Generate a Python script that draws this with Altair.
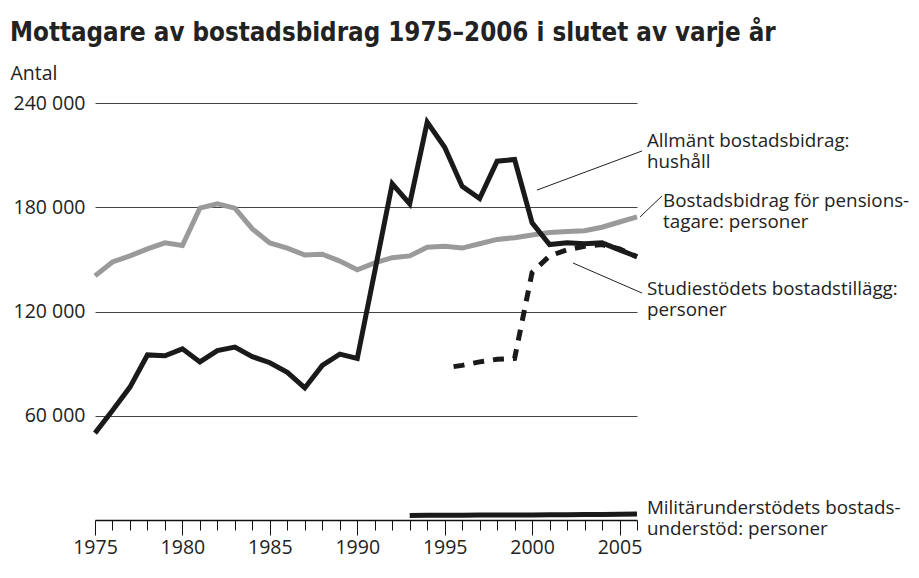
import altair as alt
import pandas as pd

years = list(range(1975, 2007))
allmant = [50000, 63000, 76500, 95000, 94500, 98500, 91000, 97500, 99500, 94000, 90500, 85000, 76000, 89000, 95500, 93000,
           143000, 193500, 182000, 229000, 214500, 192000, 185000, 206500, 207500, 171000, 158500, 159500, 159000, 159500,
           155500, 151500]
pension = [140500, 148500, 152000, 156000, 159500, 158000, 179500, 182000, 179500, 167500, 159500, 156500, 152500, 153000,
           149000, 144000, 148000, 151000, 152000, 157000, 157500, 156500, 159000, 161500, 162500, 164000, 165500, 166000,
           166500, 168500, 171500, 174500]
studie_years = list(range(1995, 2007))
studie = [87500, 89000, 91000, 92500, 93000, 142500, 152000, 155500, 157500, 158500, 156000, 151500]
militar_years = list(range(1993, 2007))
militar = [2600, 2700, 2700, 2800, 2900, 2900, 2900, 2900, 3000, 3000, 3100, 3200, 3300, 3500]

y_ticks = [60000, 120000, 180000, 240000]

ann_text = ["Allmänt bostadsbidrag:\nhushåll",
            "Bostadsbidrag för pensions-\ntagare: personer",
            "Studiestödets bostadstillägg:\npersoner",
            "Militärunderstödets bostads-\nunderstöd: personer"]
ann_x = [2006.57, 2007.49, 2006.57, 2006.57]
ann_y = [214700, 180100, 129500, 3450]

lead_x = [2000.28, 2006.17, 2002.34]
lead_x2 = [2006.29, 2007.43, 2006.29]
lead_y = [189900, 174400, 147900]
lead_y2 = [212400, 186500, 130600]

FONT = "Open Sans"
FS = 18.8
TXT = "#222222"

df_all = pd.DataFrame({"year": years, "value": allmant})
df_pen = pd.DataFrame({"year": years, "value": pension})
df_stu = pd.DataFrame({"year": studie_years, "value": studie})
df_mil = pd.DataFrame({"year": militar_years, "value": militar})
df_ann = pd.DataFrame({"year": ann_x, "value": ann_y, "text": ann_text})
df_lead = pd.DataFrame({"year": lead_x, "year2": lead_x2, "value": lead_y, "value2": lead_y2})

xs = alt.Scale(domain=[1975, 2006], nice=False, zero=False)
ys = alt.Scale(domain=[0, 240000], nice=False)

x_axis = alt.Axis(
    values=years,
    labelExpr="datum.value % 5 === 0 ? '' + datum.value : ''",
    tickSize={"condition": {"test": "datum.value % 5 === 0", "value": 15}, "value": 10},
    tickColor="#111111", tickWidth=1,
    domainColor="#111111", domainWidth=1.3,
    grid=False, title=None,
    labelFont=FONT, labelFontSize=19.5, labelColor=TXT, labelPadding=3,
    labelFlush=False, labelOverlap=False,
)
y_axis = alt.Axis(
    values=y_ticks,
    labelExpr="replace(format(datum.value, ','), regexp(',', 'g'), ' ')",
    domain=False, ticks=False,
    grid=True, gridColor="#444444", gridWidth=1.2,
    labelFont=FONT, labelFontSize=19.5, labelColor=TXT, labelPadding=10,
    title="Antal", titleAngle=0, titleX=-85, titleY=-30, titleAlign="left",
    titleBaseline="middle", titleFont=FONT, titleFontSize=19.5,
    titleFontWeight="normal", titleColor=TXT,
)

X = alt.X("year:Q", scale=xs, axis=x_axis)
Y = alt.Y("value:Q", scale=ys, axis=y_axis)

pen_line = alt.Chart(df_pen).mark_line(color="#9a9a9a", strokeWidth=5, strokeJoin="miter").encode(x=X, y=Y)
stu_line = alt.Chart(df_stu).mark_line(color="#1a1a1a", strokeWidth=5, strokeDash=[11, 9],
                                       strokeDashOffset=11, strokeJoin="miter").encode(x=X, y=Y)
all_line = alt.Chart(df_all).mark_line(color="#1a1a1a", strokeWidth=5, strokeJoin="miter").encode(x=X, y=Y)
mil_line = alt.Chart(df_mil).mark_line(color="#1a1a1a", strokeWidth=5).encode(x=X, y=Y)

leaders = alt.Chart(df_lead).mark_rule(color=TXT, strokeWidth=1).encode(
    x=X, x2=alt.X2("year2:Q"), y=Y, y2=alt.Y2("value2:Q"))

labels = alt.Chart(df_ann).mark_text(align="left", baseline="alphabetic", font=FONT, fontSize=FS,
                                     lineBreak="\n", lineHeight=21,
                                     color=TXT).encode(x=X, y=Y, text="text:N")

chart = alt.layer(pen_line, stu_line, all_line, mil_line, leaders, labels).properties(
    width=542, height=417,
    background="white",
    title=alt.TitleParams(
        "Mottagare av bostadsbidrag 1975–2006 i slutet av varje år",
        anchor="start", frame="group", dx=-85, offset=16,
        font="DejaVu Sans Condensed", fontSize=25.7, fontWeight="bold", color=TXT,
    ),
    autosize=alt.AutoSizeParams(type="none"),
    padding={"left": 87, "top": 95, "right": 274, "bottom": 45},
).configure_view(stroke=None)

chart.save("out.html", embed_options={"renderer": "svg", "actions": False})
